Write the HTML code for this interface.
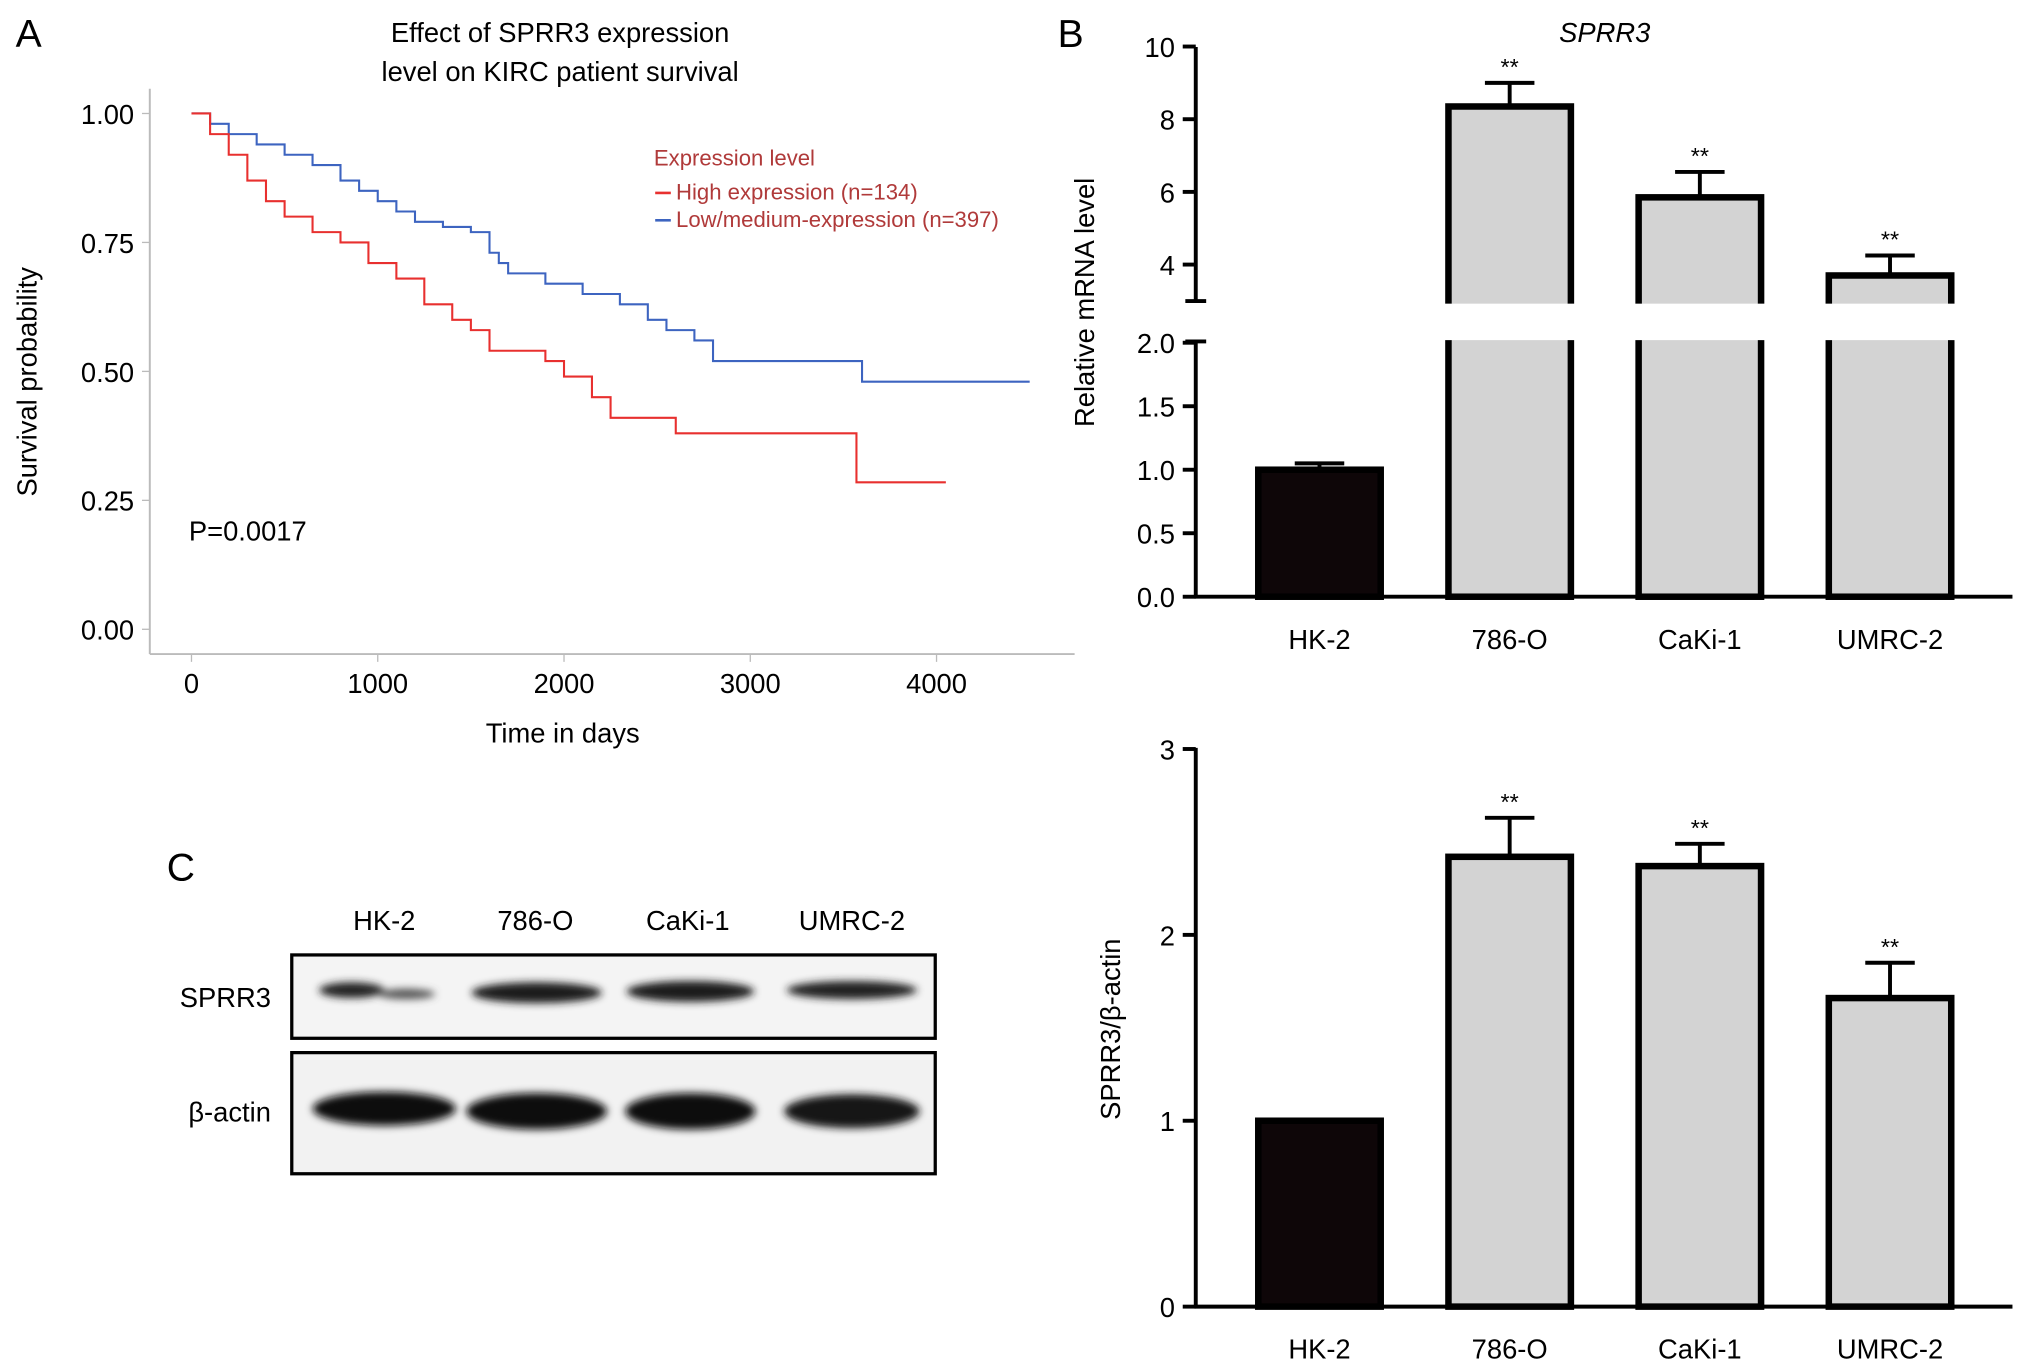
<!DOCTYPE html>
<html><head><meta charset="utf-8"><style>
html,body{margin:0;padding:0;background:#fff}
svg{display:block}
text{font-family:"Liberation Sans",Arial,sans-serif}
</style></head><body>
<svg id="fig" width="2032" height="1368" viewBox="0 0 1560 1050">
<defs>
<filter id="blur" x="-20%" y="-100%" width="140%" height="300%"><feGaussianBlur stdDeviation="3"/></filter>
</defs>
<g id="panelA">
<text x="12" y="36" font-size="30">A</text>
<text x="430" y="32" font-size="21" text-anchor="middle">Effect of SPRR3 expression</text>
<text x="430" y="62" font-size="21" text-anchor="middle">level on KIRC patient survival</text>
<line x1="115" y1="68" x2="115" y2="502" stroke="#bbb" stroke-width="1.5"/>
<line x1="115" y1="502" x2="825" y2="502" stroke="#bbb" stroke-width="1.5"/>
<g id="aTicks"></g>
<g id="aCurves"></g>
<text x="28" y="293" font-size="21" text-anchor="middle" transform="rotate(-90 28 293)">Survival probability</text>
<text x="432" y="570" font-size="21" text-anchor="middle">Time in days</text>
<text x="145" y="415" font-size="21">P=0.0017</text>
<g>
<text x="502" y="127" font-size="17" fill="#b03a3a">Expression level</text>
<line x1="503" y1="148" x2="515" y2="148" stroke="#e8302f" stroke-width="2"/>
<text x="519" y="153" font-size="17" fill="#b03a3a">High expression (n=134)</text>
<line x1="503" y1="169" x2="515" y2="169" stroke="#3d64c0" stroke-width="2"/>
<text x="519" y="174" font-size="17" fill="#b03a3a">Low/medium-expression (n=397)</text>
</g>
</g>
<g id="panelB">
<text x="812" y="36" font-size="30">B</text>
<text x="1232" y="32" font-size="21" font-style="italic" text-anchor="middle">SPRR3</text>
<text x="840" y="232" font-size="21" text-anchor="middle" transform="rotate(-90 840 232)">Relative mRNA level</text>
<g id="bTop"></g>
</g>
<g id="panelB2">
<text x="860" y="790" font-size="21" text-anchor="middle" transform="rotate(-90 860 790)">SPRR3/β-actin</text>
<g id="bBot"></g>
</g>
<g id="panelC">
<text x="128" y="676" font-size="30">C</text>
<text x="295" y="714" font-size="21" text-anchor="middle">HK-2</text>
<text x="411" y="714" font-size="21" text-anchor="middle">786-O</text>
<text x="528" y="714" font-size="21" text-anchor="middle">CaKi-1</text>
<text x="654" y="714" font-size="21" text-anchor="middle">UMRC-2</text>
<text x="208" y="773" font-size="21" text-anchor="end">SPRR3</text>
<text x="208" y="861" font-size="21" text-anchor="end">β-actin</text>
<rect x="224" y="733" width="494" height="64" fill="#f4f4f4" stroke="#000" stroke-width="2.5"/>
<rect x="224" y="808" width="494" height="93" fill="#f2f2f2" stroke="#000" stroke-width="2.5"/>
<g filter="url(#blur)">
<ellipse cx="270" cy="760" rx="25" ry="6" fill="#222"/>
<ellipse cx="312" cy="763" rx="22" ry="4" fill="#555"/>
<ellipse cx="412" cy="762" rx="50" ry="8" fill="#1a1a1a"/>
<ellipse cx="530" cy="761" rx="49" ry="8" fill="#1a1a1a"/>
<ellipse cx="654" cy="760" rx="50" ry="7" fill="#222"/>
<ellipse cx="295" cy="851" rx="55" ry="13" fill="#111"/>
<ellipse cx="412" cy="853" rx="54" ry="14" fill="#111"/>
<ellipse cx="530" cy="853" rx="50" ry="14" fill="#111"/>
<ellipse cx="654" cy="853" rx="52" ry="13" fill="#151515"/>
</g>
</g>
</svg>
<script>
const NS='http://www.w3.org/2000/svg';
function mk(tag,attrs,parent){const e=document.createElementNS(NS,tag);for(const k in attrs)e.setAttribute(k,attrs[k]);parent.appendChild(e);return e;}
// Panel A data
const aXTicks=[0,1000,2000,3000,4000];
const aYTicks=[0,0.25,0.5,0.75,1.0];
const aYLabels=['0.00','0.25','0.50','0.75','1.00'];
const blueTimes=[0,100,200,350,500,650,800,900,1000,1100,1200,1350,1500,1600,1650,1700,1900,2100,2300,2450,2550,2700,2800,3000,3590,3600,4500];
const blueSurv=[1,0.98,0.96,0.94,0.92,0.90,0.87,0.85,0.83,0.81,0.79,0.78,0.77,0.73,0.71,0.69,0.67,0.65,0.63,0.60,0.58,0.56,0.52,0.52,0.52,0.48,0.48];
const redTimes=[0,100,200,300,400,500,650,800,950,1100,1250,1400,1500,1600,1900,2000,2150,2250,2600,3550,3570,4050];
const redSurv=[1,0.96,0.92,0.87,0.83,0.80,0.77,0.75,0.71,0.68,0.63,0.60,0.58,0.54,0.52,0.49,0.45,0.41,0.38,0.38,0.285,0.285];
const ax=t=>147+t*0.1430, ay=v=>483-v*396;
const aT=document.getElementById('aTicks');
aXTicks.forEach(t=>{
 const l=mk('line',{x1:ax(t),y1:502,x2:ax(t),y2:508,stroke:'#bbb'},aT);
 
 const tx=mk('text',{x:ax(t),y:532,'font-size':21,'text-anchor':'middle'},aT);tx.textContent=t;
 
});
aYTicks.forEach((v,i)=>{
 const l=mk('line',{x1:109,y1:ay(v),x2:115,y2:ay(v),stroke:'#bbb'},aT);
 
 const tx=mk('text',{x:103,y:ay(v)+8,'font-size':21,'text-anchor':'end'},aT);tx.textContent=aYLabels[i];
 
});
function km(times,surv,color,name){
 let d='M'+ax(times[0])+','+ay(surv[0]);
 for(let i=1;i<times.length;i++){d+=' H'+ax(times[i])+' V'+ay(surv[i]);}
 const p=mk('path',{d:d,fill:'none',stroke:color,'stroke-width':1.6},document.getElementById('aCurves'));
 
}
km(blueTimes,blueSurv,'#3d64c0','curve-low-medium');
km(redTimes,redSurv,'#e8302f','curve-high');
// Panel B data
const cats=['HK-2','786-O','CaKi-1','UMRC-2'];
const mrna=[1.0,8.35,5.85,3.7];
const mrnaErr=[0.05,0.65,0.7,0.55];
const prot=[1.0,2.42,2.37,1.66];
const protErr=[0,0.21,0.12,0.19];
const mrnaStars=['','**','**','**'];
const protStars=['','**','**','**'];
const topTicks=[4,6,8,10];
const lowTicks=[0,0.5,1.0,1.5,2.0];
const lowLabels=['0.0','0.5','1.0','1.5','2.0'];
const botTicks=[0,1,2,3];
const bx=i=>1013+i*146;
const BW=94;
function myTop(v){ // broken axis
 if(v<=2) return 458-v*97.5;
 if(v<3.03) return 263;
 return 203-(v-4)*27.9;
}
const bT=document.getElementById('bTop');
function ln(x1,y1,x2,y2,w,name,p){const l=mk('line',{x1,y1,x2,y2,stroke:'#000','stroke-width':w},p);return l;}
ln(918,36,918,231,3,'y-axis-b-upper',bT);
ln(918,262,918,459,3,'y-axis-b-lower',bT);
ln(910,231,926,231,3,'axis-break',bT);ln(910,262,926,262,3,'axis-break',bT);
ln(917,458,1545,458,3,'x-axis-b',bT);
topTicks.forEach(v=>{ln(908,myTop(v),918,myTop(v),3,'y-tick-b',bT);
 const t=mk('text',{x:902,y:myTop(v)+8,'font-size':21,'text-anchor':'end'},bT);t.textContent=v;
 });
lowTicks.forEach((v,i)=>{ln(908,myTop(v),918,myTop(v),3,'y-tick-b',bT);
 const t=mk('text',{x:902,y:myTop(v)+8,'font-size':21,'text-anchor':'end'},bT);t.textContent=lowLabels[i];
 });
function bars(g,vals,errs,stars,yf,base,breakGap,prefix){
 vals.forEach((v,i)=>{
  const x=bx(i);const top=yf(v);const fill=i==0?'#0e0608':'#d3d3d3';
  const r=mk('rect',{x:x-BW/2,y:top,width:BW,height:base-top,fill:fill,stroke:'#000','stroke-width':5},g);
  
  if(breakGap&&v>3.03){const c=mk('rect',{x:x-BW/2-4,y:233,width:BW+8,height:28,fill:'#fff'},g);
   }
  if(errs[i]>0){const ye=yf(v+errs[i]);
   ln(x,top-2,x,ye,3,prefix+'-error-bar',g);ln(x-19,ye,x+19,ye,3,prefix+'-error-cap',g);
   const s=mk('text',{x:x,y:ye-6,'font-size':18,'text-anchor':'middle'},g);s.textContent=stars[i];
   }
  const t=mk('text',{x:x,y:base+40,'font-size':21,'text-anchor':'middle'},g);t.textContent=cats[i];
  
 });
}
bars(bT,mrna,mrnaErr,mrnaStars,myTop,458,true,'mrna');
const bB=document.getElementById('bBot');
const yb=v=>1003-v*142.7;
ln(918,574,918,1004,3,'y-axis-b2',bB);
ln(917,1003,1545,1003,3,'x-axis-b2',bB);
botTicks.forEach(v=>{ln(908,yb(v),918,yb(v),3,'y-tick-b2',bB);
 const t=mk('text',{x:902,y:yb(v)+8,'font-size':21,'text-anchor':'end'},bB);t.textContent=v;
 });
bars(bB,prot,protErr,protStars,yb,1003,false,'protein');
</script>
</body></html>
